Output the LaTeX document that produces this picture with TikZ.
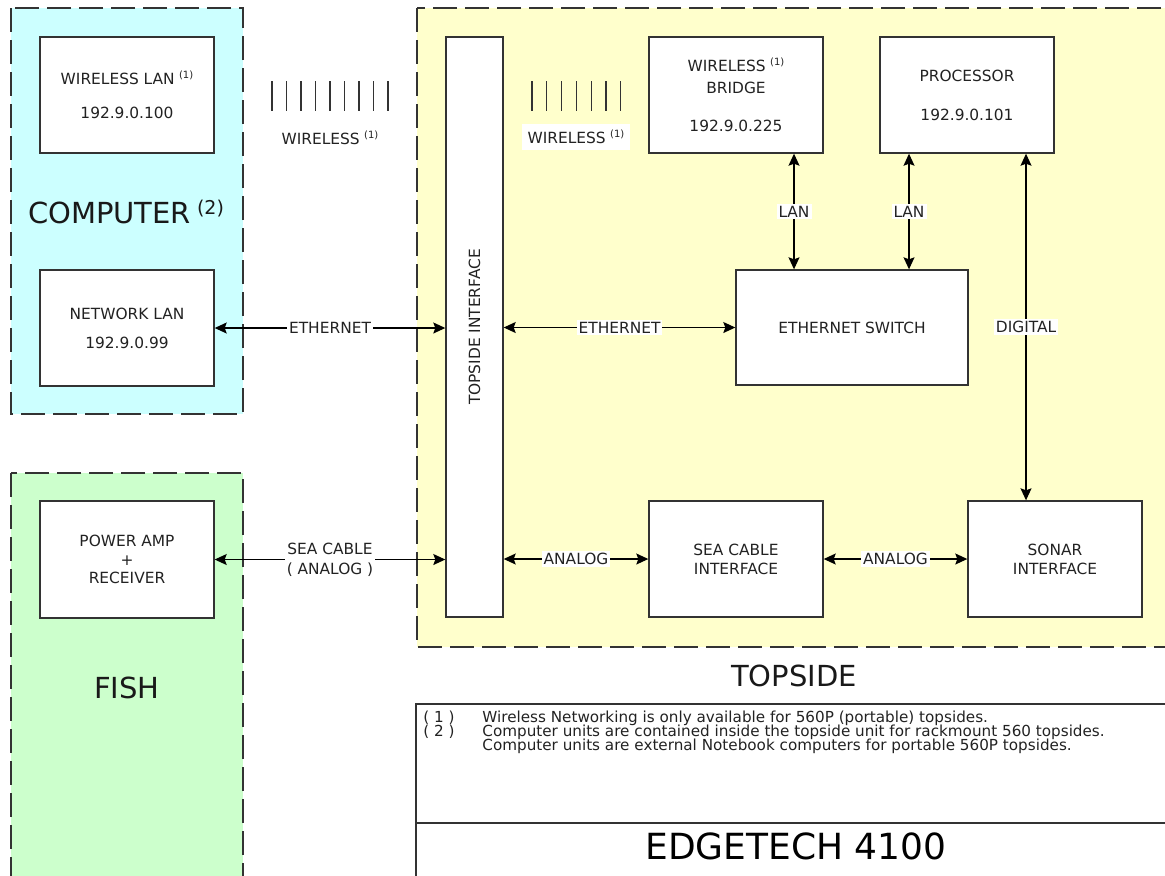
\documentclass[tikz,border=0pt]{standalone}
\usepackage{fontspec}
\setmainfont{DejaVu Sans}
\usetikzlibrary{calc}
\usetikzlibrary{positioning}
\usetikzlibrary{arrows.meta}

\definecolor{compcyan}{HTML}{CCFFFF}
\definecolor{fishgreen}{HTML}{CCFFCC}
\definecolor{topyellow}{HTML}{FFFFCC}
\definecolor{linegray}{HTML}{333333}
\definecolor{textgray}{HTML}{222222}

\newcommand{\fnote}[1]{\hspace{2.2pt}\raisebox{0.7ex}{\fontsize{5}{5}\selectfont(#1)}}
\newcommand{\bignote}[1]{\hspace{3pt}\raisebox{0.55ex}{\fontsize{9.5}{10}\selectfont(#1)}}

\tikzset{
  unit/.style={draw=linegray, line width=0.7pt, fill=white,
    minimum width=87pt, minimum height=58pt, align=center, inner sep=0pt,
    font=\fontsize{7.7}{9.4}\selectfont, text=textgray},
  region/.style={draw=linegray, line width=0.7pt, dash pattern=on 12pt off 4pt},
  wire/.style={<->, line width=0.6pt, draw=black},
  tag/.style={fill=white, inner sep=1pt, align=center,
    font=\fontsize{7.7}{9.4}\selectfont, text=textgray},
  bars/.style={line width=0.6pt, draw=linegray},
  big/.style={font=\fontsize{14.5}{16}\selectfont, text=black!90},
  note/.style={anchor=base west, inner sep=0pt,
    font=\fontsize{7.6}{8}\selectfont, text=textgray},
}

\begin{document}
\begin{tikzpicture}[%
  x=0.5pt, y=-0.5pt,
  >={Stealth[length=6pt,width=5.5pt,inset=1pt]},
]
  \useasboundingbox (0,0) rectangle (1165,875);
  \clip (0,0) rectangle (1165,875);

  % regions
  \draw[region, fill=compcyan] (11,8) rectangle (243,414);
  \draw[region, fill=fishgreen] (11,473) rectangle (243,900);
  \draw[region, fill=topyellow] (417,8) rectangle (1190,647);

  % units
  \node[unit] (wlan) at (127,95) {WIRELESS LAN\fnote{1}\\[7.6pt]192.9.0.100};
  \node[unit] (netlan) at (127,328) {NETWORK LAN\\[5pt]192.9.0.99};
  \node[unit, minimum height=58.5pt] (amp) at (127,559.5) {POWER AMP\\+\\RECEIVER};

  \node[unit, minimum width=28.5pt, minimum height=290pt] (iface) at (474.5,327) {};
  \node[rotate=90, font=\fontsize{7.7}{9.4}\selectfont, text=textgray] (ifacetxt)
    at (iface.center) {TOPSIDE INTERFACE};

  \node[unit] (bridge) at (736,95) {WIRELESS\fnote{1}\\[1.6pt]BRIDGE\\[9.6pt]192.9.0.225};
  \node[unit] (proc) at (967,95) {PROCESSOR\\[10pt]192.9.0.101};
  \node[unit, minimum width=116pt, minimum height=57.5pt] (switch) at (852,327.5) {ETHERNET SWITCH};
  \node[unit] (scable) at (736,559) {SEA CABLE\\INTERFACE};
  \node[unit] (sonar) at (1055,559) {SONAR\\INTERFACE};

  % wireless links
  \foreach \i in {0,...,8}
    \draw[bars] (272+14.5*\i,81) -- ++(0,30);
  \foreach \i in {0,...,6}
    \draw[bars] (532+14.8*\i,81) -- ++(0,30);
  \node[tag] (wlsA) at (330,138) {WIRELESS\fnote{1}};
  \node[tag, inner sep=3pt] (wlsB) at (576,137) {WIRELESS\fnote{1}};

  % connectors
  \coordinate (lanA) at (794,0);
  \coordinate (lanB) at (909,0);
  \coordinate (digi) at (1026,0);

  \draw[wire] (netlan.east) -- (netlan.east -| iface.west) node[tag, midway] {ETHERNET};
  \draw[wire] (iface.east |- switch.west) -- (switch.west) node[tag, midway] {ETHERNET};
  \draw[wire] (amp.east) -- (amp.east -| iface.west)
    node[tag, midway] {SEA CABLE\\[0.6pt]( ANALOG )};
  \draw[wire] (iface.east |- scable.west) -- (scable.west) node[tag, midway] {ANALOG};
  \draw[wire] (scable.east) -- (sonar.west) node[tag, midway] {ANALOG};
  \draw[wire] (bridge.south -| lanA) -- (switch.north -| lanA) node[tag, midway] {LAN};
  \draw[wire] (proc.south -| lanB) -- (switch.north -| lanB) node[tag, midway] {LAN};
  \draw[wire] (proc.south -| digi) -- (sonar.north -| digi) node[tag, midway] {DIGITAL};

  % region titles
  \node[big] (comp) at (126,212) {COMPUTER\bignote{2}};
  \node[big] (fish) at (127,688) {FISH};
  \node[big] (topside) at (794,676) {TOPSIDE};

  % notes block
  \draw[line width=0.7pt, linegray] (416,704) rectangle (1190,900);
  \draw[line width=0.7pt, linegray] (416,823) -- (1190,823);
  \node[note] (n1) at (423,722.5) {( 1 )};
  \node[note] (t1) at (482,722.5) {Wireless Networking is only available for 560P (portable) topsides.};
  \node[note] (n2) at (423,736.5) {( 2 )};
  \node[note] (t2) at (482,736.5) {Computer units are contained inside the topside unit for rackmount 560 topsides.};
  \node[note] (t3) at (482,750.5) {Computer units are external Notebook computers for portable 560P topsides.};
  \node[font=\fontsize{18}{20}\selectfont, text=black] (title) at (796,846) {EDGETECH 4100};

\end{tikzpicture}
\end{document}
